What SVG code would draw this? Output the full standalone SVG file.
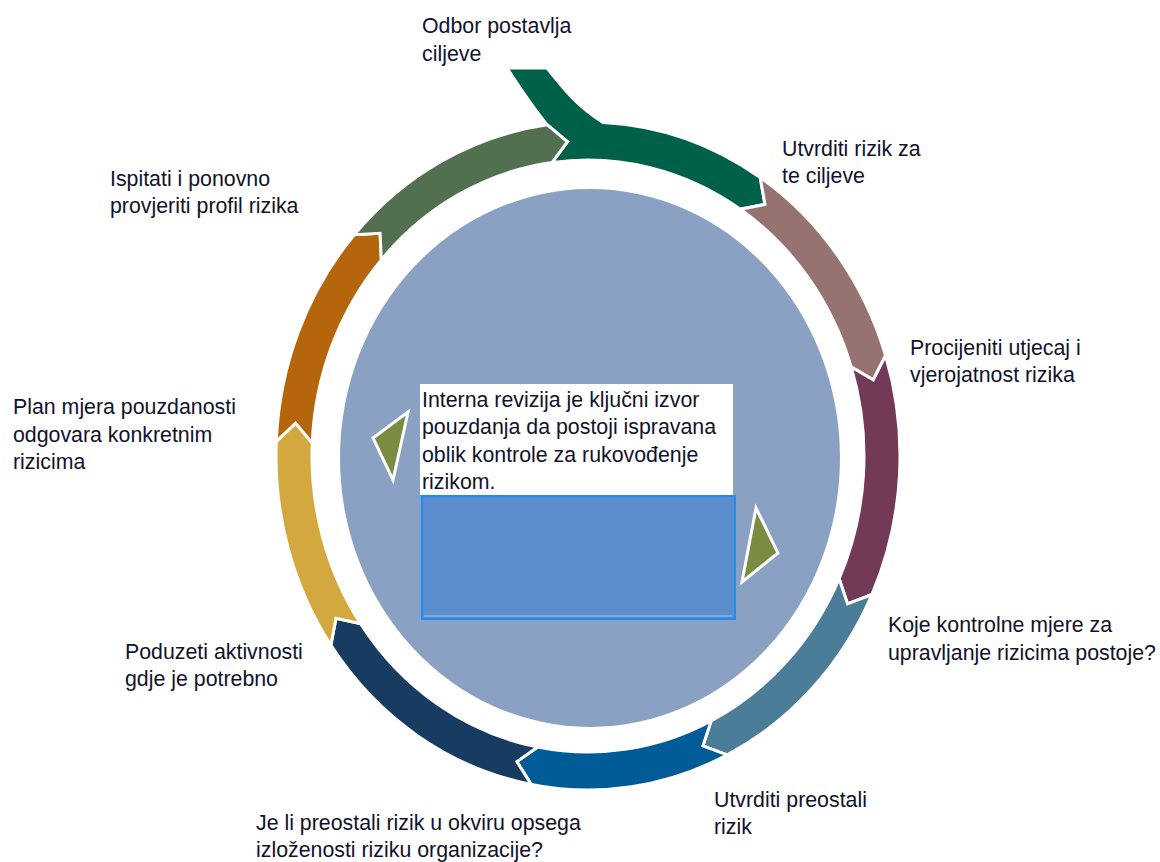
<svg xmlns="http://www.w3.org/2000/svg" width="1160" height="862" viewBox="0 0 1160 862">
<style>
.lbl{font-family:"Liberation Sans",Arial,sans-serif;font-size:21.33px;fill:#12122a}
.seg{stroke:#ffffff;stroke-width:3;stroke-linejoin:miter}
.tri{fill:#7b8b3f;stroke:#ffffff;stroke-width:3;stroke-linejoin:miter}
</style>
<rect x="0" y="0" width="1160" height="862" fill="#ffffff"/>
<g id="core">
<ellipse cx="590" cy="458" rx="250" ry="269" fill="#8ba1c3"/>
</g>
<g id="n-odbor">
<path class="seg" fill="#00614b" d="M547.27,124.86 C535,110 520,88 507,68 L547,68 C560,84 574,104 603,122.4 A312,334 0 0 1 760.21,177.48 L764.94,204.43 L740.34,209.17 A276,296 0 0 0 551.97,162.53 L567.49,141.77 Z"/>
<text class="lbl" x="422" y="33">Odbor postavlja</text>
<text class="lbl" x="422" y="61">ciljeve</text>
</g>
<g id="n-utvrditi">
<path class="seg" fill="#967370" d="M760.21,177.48 A312,334 0 0 1 885.56,355.56 L873.27,379.8 L851.23,366.99 A276,296 0 0 0 740.34,209.17 L764.94,204.43 Z"/>
<text class="lbl" x="782" y="156">Utvrditi rizik za</text>
<text class="lbl" x="782" y="183">te ciljeve</text>
</g>
<g id="n-procijeniti">
<path class="seg" fill="#733a58" d="M885.56,355.56 A312,334 0 0 1 871.91,594.51 L847.59,603.88 L839.15,578.75 A276,296 0 0 0 851.23,366.99 L873.27,379.8 Z"/>
<text class="lbl" x="910" y="355">Procijeniti utjecaj i</text>
<text class="lbl" x="910" y="382">vjerojatnost rizika</text>
</g>
<g id="n-koje">
<path class="seg" fill="#4b7d98" d="M871.91,594.51 A312,334 0 0 1 727.21,754.91 L702.87,745.96 L711.15,720.9 A276,296 0 0 0 839.15,578.75 L847.59,603.88 Z"/>
<text class="lbl" x="888" y="632">Koje kontrolne mjere za</text>
<text class="lbl" x="888" y="660">upravljanje rizicima postoje?</text>
</g>
<g id="n-preostali">
<path class="seg" fill="#015b96" d="M727.21,754.91 A312,334 0 0 1 531.14,784.41 L516.88,761.64 L537.7,747.04 A276,296 0 0 0 711.15,720.9 L702.87,745.96 Z"/>
<text class="lbl" x="714" y="807">Utvrditi preostali</text>
<text class="lbl" x="714" y="834">rizik</text>
</g>
<g id="n-okvir">
<path class="seg" fill="#173b61" d="M531.14,784.41 A312,334 0 0 1 330.87,645.18 L335.99,618.24 L360.54,623.66 A276,296 0 0 0 537.7,747.04 L516.88,761.64 Z"/>
<text class="lbl" x="256" y="830">Je li preostali rizik u okviru opsega</text>
<text class="lbl" x="256" y="857">izloženosti riziku organizacije?</text>
</g>
<g id="n-poduzeti">
<path class="seg" fill="#d3a83f" d="M330.87,645.18 A312,334 0 0 1 276.3,441.43 L295.61,423.07 L312.26,443.09 A276,296 0 0 0 360.54,623.66 L335.99,618.24 Z"/>
<text class="lbl" x="125" y="659">Poduzeti aktivnosti</text>
<text class="lbl" x="125" y="686">gdje je potrebno</text>
</g>
<g id="n-plan">
<path class="seg" fill="#b5650b" d="M276.3,441.43 A312,334 0 0 1 354.32,234.68 L380.11,233.26 L381.29,259.86 A276,296 0 0 0 312.26,443.09 L295.61,423.07 Z"/>
<text class="lbl" x="13" y="414">Plan mjera pouzdanosti</text>
<text class="lbl" x="13" y="442">odgovara konkretnim</text>
<text class="lbl" x="13" y="469">rizicima</text>
</g>
<g id="n-ispitati">
<path class="seg" fill="#526f4f" d="M354.32,234.68 A312,334 0 0 1 547.27,124.86 L567.49,141.77 L551.97,162.53 A276,296 0 0 0 381.29,259.86 L380.11,233.26 Z"/>
<text class="lbl" x="110" y="185.5">Ispitati i ponovno</text>
<text class="lbl" x="110" y="213">provjeriti profil rizika</text>
</g>
<g id="connectors">
<polygon class="tri" points="408,412 373,438 393,480"/>
<polygon class="tri" points="756,508 778,553 742,582"/>
</g>
<g id="n-center">
<rect x="420" y="384" width="313" height="111" fill="#ffffff"/>
<rect x="422" y="496" width="313" height="123" fill="#5b8dcd" stroke="#1f8bf5" stroke-width="2"/>
<line x1="424" y1="616" x2="732" y2="616" stroke="#a9c0de" stroke-width="1"/>
<text class="lbl" x="422" y="407">Interna revizija je ključni izvor</text>
<text class="lbl" x="422" y="434">pouzdanja da postoji ispravana</text>
<text class="lbl" x="422" y="461.5">oblik kontrole za rukovođenje</text>
<text class="lbl" x="422" y="489">rizikom.</text>
</g>
</svg>
